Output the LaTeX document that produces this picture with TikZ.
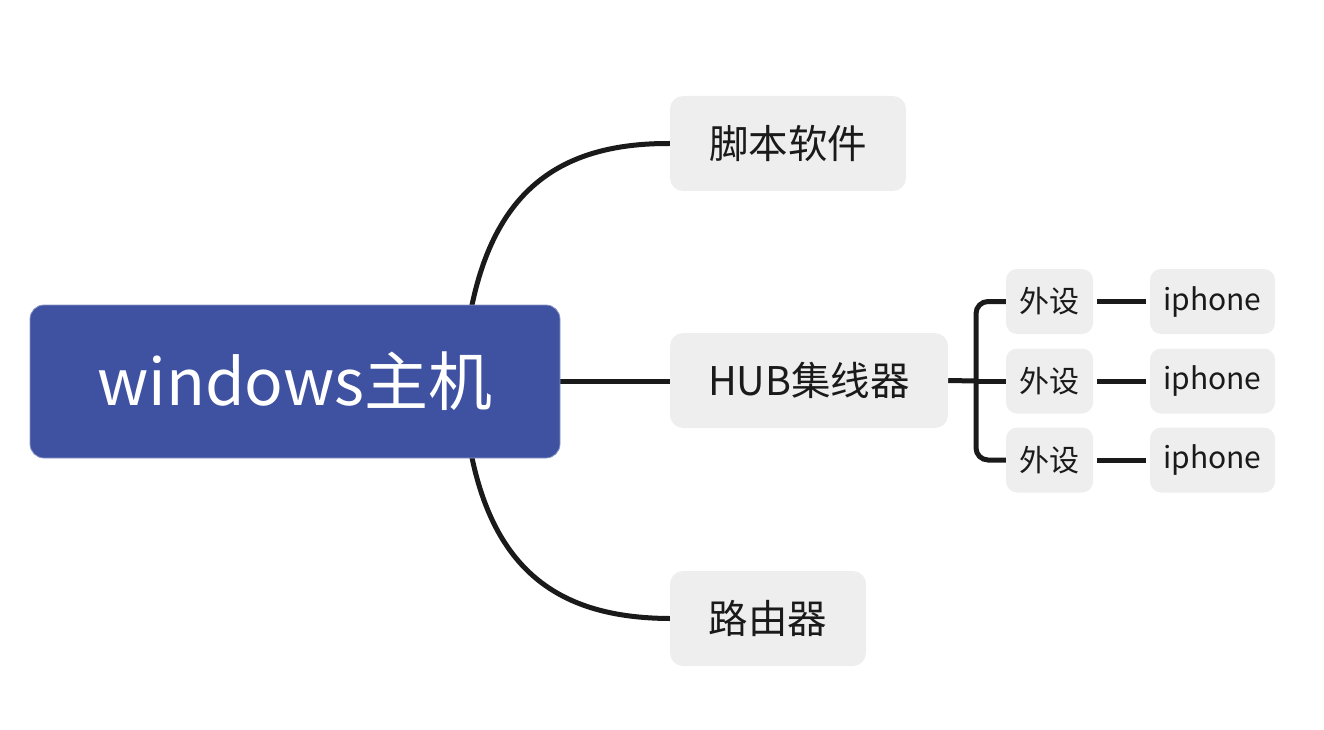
\documentclass[tikz,border=0pt]{standalone}
\usepackage{fontspec}
\setmainfont{Noto Sans CJK SC}
\usetikzlibrary{backgrounds}
\definecolor{rootblue}{HTML}{3F51A1}
\definecolor{boxgray}{HTML}{EEEEEE}
\definecolor{ink}{HTML}{1A1A1A}
\begin{document}
\begin{tikzpicture}[x=1pt,y=-1pt,
  rootbox/.style={fill=rootblue,draw=rootblue!60!white,line width=0.8pt,rounded corners=14pt,minimum width=530pt,minimum height=153pt,inner sep=0pt,text=white,font=\fontsize{64}{68}\selectfont},
  midbox/.style={fill=boxgray,rounded corners=13pt,minimum height=95pt,inner sep=0pt,text=ink,font=\fontsize{39.5}{44}\selectfont},
  smallbox/.style={fill=boxgray,rounded corners=11pt,minimum height=65pt,inner sep=0pt,text=ink,font=\fontsize{30}{34}\selectfont},
  link/.style={draw=ink,line width=5pt}]
\useasboundingbox (0,0) rectangle (1324,730);
% nodes
\node[rootbox] (root) at (295,381.5) {windows主机};
\node[midbox,minimum width=236pt] (soft) at (788,143.5) {脚本软件};
\node[midbox,minimum width=278pt] (hub) at (809,380.5) {HUB集线器};
\node[midbox,minimum width=196pt] (router) at (768,618.5) {路由器};
\node[smallbox,minimum width=87pt] (p1) at (1049.5,301.5) {外设};
\node[smallbox,minimum width=87pt] (p2) at (1049.5,381) {外设};
\node[smallbox,minimum width=87pt] (p3) at (1049.5,460) {外设};
\node[smallbox,minimum width=125pt] (i1) at (1212.5,301.5) {iphone};
\node[smallbox,minimum width=125pt] (i2) at (1212.5,381) {iphone};
\node[smallbox,minimum width=125pt] (i3) at (1212.5,460) {iphone};
\coordinate (bx) at (976,381);
% connectors
\begin{pgfonlayer}{background}
\draw[link] ([xshift=-92pt,yshift=-20pt]root.north east) .. controls (490,190) and (560,143) .. (soft.west);
\draw[link] ([xshift=-92pt,yshift=20pt]root.south east) .. controls (490,572) and (560,618) .. (router.west);
\draw[link] (root.east) -- (root.east -| hub.west);
\draw[link] (hub.east) -- (bx);
\draw[link,rounded corners=12pt] (p1.west) -- (p1.west -| bx) -- (p3.west -| bx) -- (p3.west);
\draw[link] (bx) -- (p2.west);
\draw[link] ([xshift=4pt]p1.east) -- ([xshift=-4pt]i1.west);
\draw[link] ([xshift=4pt]p2.east) -- ([xshift=-4pt]i2.west);
\draw[link] ([xshift=4pt]p3.east) -- ([xshift=-4pt]i3.west);
\end{pgfonlayer}
\end{tikzpicture}
\end{document}
